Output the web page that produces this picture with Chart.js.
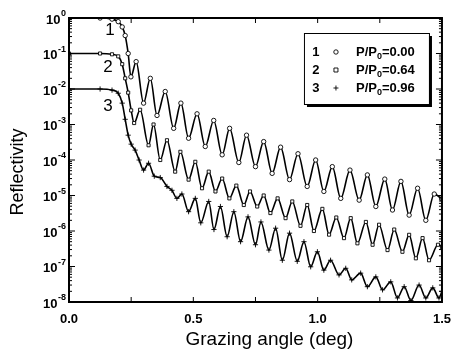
<!DOCTYPE html>
<html>
<head>
<meta charset="utf-8">
<script src="https://cdn.jsdelivr.net/npm/chart.js@4.4.1/dist/chart.umd.min.js"></script>
<style>
  html, body { margin: 0; padding: 0; background: #fff; }
  #wrap { width: 453px; height: 350px; }
</style>
</head>
<body>
<div id="wrap"><canvas id="chart"></canvas></div>
<script>
// curve 1, P/P0 = 0.00 (peaks and troughs)
const angle1 = [0.000, 0.125, 0.173, 0.198, 0.214, 0.226, 0.238, 0.249, 0.270, 0.300, 0.327, 0.354, 0.387, 0.421,
  0.450, 0.481, 0.515, 0.548, 0.582, 0.616, 0.646, 0.683, 0.714, 0.750, 0.783, 0.817, 0.851, 0.887, 0.921, 0.958,
  0.992, 1.025, 1.059, 1.093, 1.130, 1.167, 1.200, 1.234, 1.270, 1.301, 1.335, 1.368, 1.402, 1.435, 1.469, 1.500];
const refl1 = [1.0, 1.0, 0.93, 0.79, 0.56, 0.32, 0.1, 2.2e-2, 5.9e-2, 4.0e-3, 2.0e-2, 1.8e-3, 8.5e-3, 7.8e-4,
  4.0e-3, 4.1e-4, 2.0e-3, 2.4e-4, 1.3e-3, 1.4e-4, 7.8e-4, 8.5e-5, 5.0e-4, 6.5e-5, 3.3e-4, 4.2e-5, 2.3e-4, 2.8e-5, 1.5e-4, 1.8e-5,
  1.0e-4, 1.3e-5, 6.5e-5, 8.3e-6, 5.2e-5, 7.4e-6, 3.8e-5, 4.9e-6, 2.9e-5, 3.9e-6, 2.5e-5, 2.8e-6, 1.6e-5, 2.0e-6, 1.1e-5, 7.9e-6];

// curve 2, P/P0 = 0.64
const angle2 = [0.000, 0.125, 0.173, 0.198, 0.214, 0.226, 0.238, 0.250, 0.262, 0.286, 0.320, 0.340, 0.367, 0.394,
  0.427, 0.448, 0.481, 0.508, 0.535, 0.562, 0.589, 0.616, 0.645, 0.673, 0.703, 0.728, 0.757, 0.783, 0.810, 0.839,
  0.871, 0.898, 0.931, 0.958, 0.985, 1.019, 1.046, 1.075, 1.106, 1.133, 1.160, 1.194, 1.221, 1.247, 1.281, 1.308,
  1.341, 1.368, 1.395, 1.422, 1.448, 1.484, 1.500];
const refl2 = [1.0e-1, 1.0e-1, 9.5e-2, 8.3e-2, 5.0e-2, 2.0e-2, 7.9e-3, 2.5e-3, 1.1e-3, 2.6e-3, 2.6e-4, 1.0e-3, 1.0e-4, 3.6e-4,
  4.7e-5, 1.7e-4, 2.8e-5, 8.9e-5, 1.6e-5, 4.7e-5, 1.3e-5, 3.0e-5, 8.3e-6, 1.9e-5, 5.4e-6, 1.3e-5, 4.9e-6, 1.0e-5, 3.2e-6, 8.3e-6,
  2.3e-6, 6.8e-6, 1.4e-6, 5.4e-6, 1.0e-6, 4.2e-6, 7.9e-7, 2.4e-6, 6.3e-7, 2.3e-6, 4.5e-7, 1.8e-6, 4.1e-7, 1.5e-6, 2.9e-7, 1.1e-6,
  2.6e-7, 7.8e-7, 1.7e-7, 6.3e-7, 1.5e-7, 4.1e-7, 3.5e-7];

// curve 3, P/P0 = 0.96
const angle3 = [0.000, 0.125, 0.173, 0.198, 0.214, 0.226, 0.238, 0.250, 0.266, 0.282, 0.300, 0.320, 0.343, 0.367,
  0.394, 0.414, 0.434, 0.454, 0.481, 0.508, 0.530, 0.562, 0.583, 0.609, 0.636, 0.663, 0.690, 0.720, 0.750, 0.772,
  0.804, 0.831, 0.858, 0.887, 0.918, 0.945, 0.972, 0.999, 1.025, 1.052, 1.086, 1.113, 1.137, 1.173, 1.200, 1.234,
  1.261, 1.294, 1.321, 1.348, 1.375, 1.408, 1.435, 1.463, 1.488, 1.500];
const refl3 = [1.0e-2, 1.0e-2, 9.3e-3, 7.6e-3, 4.0e-3, 1.4e-3, 5.0e-4, 2.8e-4, 1.9e-4, 1.0e-4, 5.2e-5, 8.1e-5, 3.5e-5, 3.2e-5,
  1.8e-5, 1.4e-5, 8.3e-6, 1.1e-5, 3.5e-6, 8.3e-6, 1.7e-6, 6.8e-6, 1.1e-6, 4.9e-6, 6.9e-7, 3.5e-6, 5.0e-7, 2.5e-6, 4.1e-7, 1.8e-6,
  2.9e-7, 1.2e-6, 1.5e-7, 8.7e-7, 1.4e-7, 5.0e-7, 9.8e-8, 2.6e-7, 7.9e-8, 1.5e-7, 5.8e-8, 8.9e-8, 4.2e-8, 6.5e-8, 2.7e-8, 5.1e-8,
  2.2e-8, 3.7e-8, 1.3e-8, 2.7e-8, 1.1e-8, 3.0e-8, 1.3e-8, 2.5e-8, 1.3e-8, 2.0e-8];

const pressures = ["0.00", "0.64", "0.96"];
const curveNames = ["1", "2", "3"];
const labelAngles = [0.165, 0.157, 0.157];
const labelRefl = [0.46, 4.2e-2, 3.2e-3];

const yTickExps = [0, -1, -2, -3, -4, -5, -6, -7, -8];
const xTickValues = [0, 0.5, 1.0, 1.5];
const xMinorTickValues = [0.25, 0.75, 1.25];

const markerStyles = ["circle", "rect", "cross"];
const FONT = "'Liberation Sans', Arial, sans-serif";

function pts(xs, ys) {
  return xs.map((x, i) => ({ x: x, y: ys[i] }));
}

function sup(ctx, base, exp, xRight, y) {
  ctx.textBaseline = "middle";
  ctx.textAlign = "left";
  ctx.font = "bold 9px " + FONT;
  const ew = ctx.measureText(exp).width;
  ctx.fillText(exp, xRight - ew, y - 4);
  ctx.font = "bold 13px " + FONT;
  ctx.textAlign = "right";
  ctx.fillText(base, xRight - ew - 0.5, y + 2);
}

const decor = {
  id: "decor",
  afterDraw(chart) {
    const ctx = chart.ctx;
    const a = chart.chartArea;
    const xs = chart.scales.x, ys = chart.scales.y;
    ctx.save();
    ctx.fillStyle = "#000";
    ctx.strokeStyle = "#000";

    // frame
    ctx.lineWidth = 2;
    ctx.strokeRect(a.left, a.top, a.right - a.left, a.bottom - a.top);

    // ticks pointing into the plot
    ctx.lineWidth = 1;
    ctx.beginPath();
    yTickExps.forEach(e => {
      const y = ys.getPixelForValue(Math.pow(10, e));
      ctx.moveTo(a.left, y); ctx.lineTo(a.left + 6, y);
      ctx.moveTo(a.right, y); ctx.lineTo(a.right - 6, y);
      if (e > -8) {
        for (let m = 2; m < 10; m++) {
          const ym = ys.getPixelForValue(m * Math.pow(10, e - 1));
          ctx.moveTo(a.left, ym); ctx.lineTo(a.left + 3, ym);
          ctx.moveTo(a.right, ym); ctx.lineTo(a.right - 3, ym);
        }
      }
    });
    xTickValues.concat(xMinorTickValues).forEach(v => {
      const x = xs.getPixelForValue(v);
      ctx.moveTo(x, a.bottom); ctx.lineTo(x, a.bottom - 5);
      ctx.moveTo(x, a.top); ctx.lineTo(x, a.top + 5);
    });
    ctx.stroke();

    // y tick labels 10^n
    yTickExps.forEach(e => {
      const y = ys.getPixelForValue(Math.pow(10, e));
      sup(ctx, "10", e === 0 ? "0" : "-" + (-e), a.left - 3, y);
    });

    // axis titles
    ctx.textAlign = "center";
    ctx.font = "19px " + FONT;
    ctx.textBaseline = "alphabetic";
    ctx.fillText("Grazing angle (deg)", (a.left + a.right) / 2 + 14, a.bottom + 43);
    ctx.font = "18px " + FONT;
    ctx.textBaseline = "middle";
    ctx.save();
    ctx.translate(18, (a.top + a.bottom) / 2 + 12);
    ctx.rotate(-Math.PI / 2);
    ctx.fillText("Reflectivity", 0, 0);
    ctx.restore();

    // curve numbers
    ctx.font = "17px " + FONT;
    curveNames.forEach((n, i) => {
      ctx.fillText(n, xs.getPixelForValue(labelAngles[i]), ys.getPixelForValue(labelRefl[i]));
    });

    // legend box with shadow
    const bl = a.right - 138, bt = a.top + 15, bw = 125, bh = 71;
    ctx.fillRect(bl + 3, bt + 3, bw, bh);
    ctx.fillStyle = "#fff";
    ctx.fillRect(bl, bt, bw, bh);
    ctx.fillStyle = "#000";
    ctx.lineWidth = 1;
    ctx.strokeRect(bl + 0.5, bt + 0.5, bw, bh);
    pressures.forEach((p, i) => {
      const y = bt + 19 + i * 18;
      ctx.font = "bold 13px " + FONT;
      ctx.textAlign = "center";
      ctx.fillText(curveNames[i], bl + 12, y);
      const mx = bl + 32;
      ctx.lineWidth = 0.9;
      ctx.beginPath();
      if (i === 0) { ctx.arc(mx, y, 2.2, 0, Math.PI * 2); }
      else if (i === 1) { ctx.rect(mx - 2, y - 2, 4, 4); }
      else { ctx.moveTo(mx - 2.5, y); ctx.lineTo(mx + 2.5, y); ctx.moveTo(mx, y - 2.5); ctx.lineTo(mx, y + 2.5); }
      ctx.stroke();
      ctx.textAlign = "left";
      let tx = bl + 52;
      ctx.fillText("P/P", tx, y);
      tx += ctx.measureText("P/P").width;
      ctx.font = "bold 9px " + FONT;
      ctx.fillText("0", tx, y + 5);
      tx += ctx.measureText("0").width;
      ctx.font = "bold 13px " + FONT;
      ctx.fillText("=" + p, tx, y);
    });
    ctx.restore();
  }
};

const curves = [[angle1, refl1], [angle2, refl2], [angle3, refl3]];

new Chart(document.getElementById("chart"), {
  type: "line",
  data: {
    datasets: curves.map((c, i) => ({
      label: curveNames[i],
      data: pts(c[0], c[1]),
      borderColor: "#000",
      borderWidth: 1.6,
      pointStyle: markerStyles[i],
      pointRadius: i === 2 ? 2.6 : 2.2,
      pointBackgroundColor: "#fff",
      pointBorderColor: "#000",
      pointBorderWidth: 0.9,
      cubicInterpolationMode: "monotone",
      fill: false,
    })),
  },
  options: {
    responsive: true,
    maintainAspectRatio: false,
    animation: false,
    layout: { padding: { top: 18, right: 11, left: 69, bottom: 0 } },
    plugins: { legend: { display: false }, tooltip: { enabled: false } },
    scales: {
      x: {
        type: "linear",
        min: 0,
        max: 1.5,
        grid: { display: false },
        border: { display: false },
        afterBuildTicks: (s) => { s.ticks = xTickValues.map(v => ({ value: v })); },
        afterFit: (s) => { s.height = 48; },
        ticks: {
          padding: 2,
          color: "#000",
          font: { family: FONT, size: 13, weight: "bold" },
          callback: (v) => Number(v).toFixed(1),
        },
      },
      y: {
        type: "logarithmic",
        display: false,
        min: 1e-8,
        max: 1,
      },
    },
  },
  plugins: [decor],
});
</script>
</body>
</html>
